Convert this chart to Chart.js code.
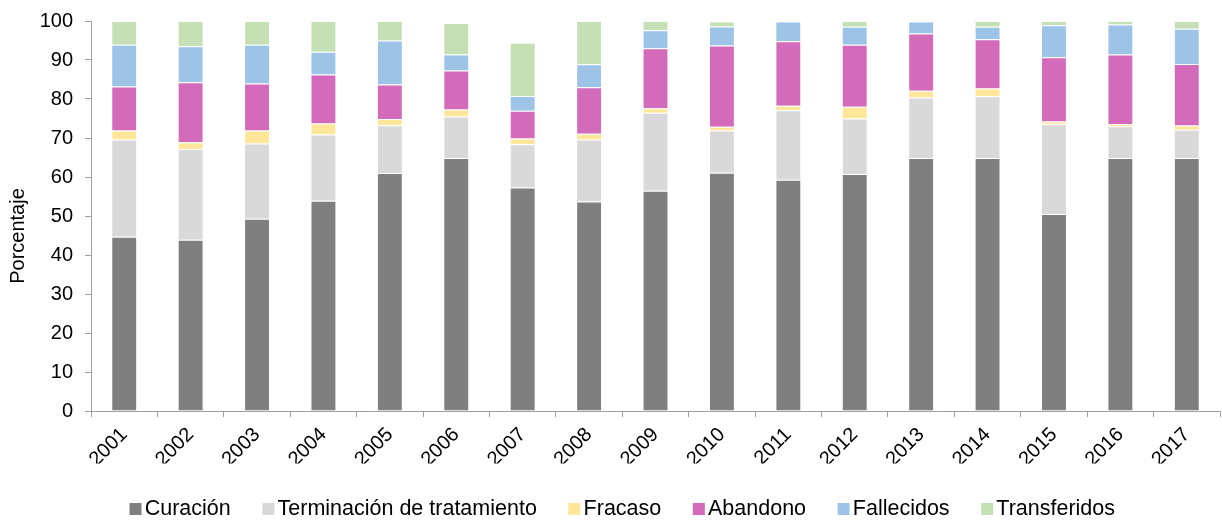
<!DOCTYPE html>
<html>
<head>
<meta charset="utf-8">
<script src="https://cdn.jsdelivr.net/npm/chart.js@4.4.1/dist/chart.umd.min.js"></script>
<style>
  html, body { margin: 0; padding: 0; background: #ffffff; }
  #wrap { width: 1222px; height: 521px; position: relative; }
</style>
</head>
<body>
<div id="wrap"><canvas id="chart"></canvas></div>
<script>
// Años de cohorte
const years = ['2001','2002','2003','2004','2005','2006','2007','2008','2009',
               '2010','2011','2012','2013','2014','2015','2016','2017'];

// Resultado del tratamiento (%)
const curacion     = [44.7, 43.9, 49.3, 53.9, 61.0, 64.9, 57.3, 53.7, 56.5, 61.1, 59.3, 60.8, 64.9, 64.9, 50.5, 64.9, 64.9];
const terminacion  = [24.9, 23.3, 19.3, 17.0, 12.3, 10.6, 11.1, 15.9, 20.0, 10.8, 17.8, 14.2, 15.5, 15.8, 23.0,  8.1,  7.2];
const fracaso      = [ 2.3,  1.7,  3.3,  2.8,  1.6,  1.8,  1.5,  1.5,  1.1,  1.0,  1.2,  3.0,  1.7,  2.0,  0.7,  0.6,  1.1];
const abandono     = [11.3, 15.4, 12.1, 12.6,  8.8, 10.0,  7.1, 11.9, 15.4, 20.8, 16.5, 15.9, 14.7, 12.6, 16.5, 17.8, 15.8];
const fallecidos   = [10.7,  9.2,  9.9,  5.8, 11.3,  4.1,  3.8,  5.9,  4.6,  4.9,  5.1,  4.6,  3.1,  3.2,  8.2,  7.7,  9.0];
const transferidos = [ 6.1,  6.5,  6.1,  7.9,  5.0,  8.1, 13.6, 11.1,  2.4,  1.3,  0.0,  1.5,  0.0,  1.5,  1.1,  0.9,  2.0];

// Escala del eje Y
const yMin = 0, yMax = 100, yStep = 10;

const FONT = '"Liberation Sans", Arial, sans-serif';
const AXIS_GREY = '#a0a0a0';

const series = [
  { label: 'Curación',                  data: curacion,     color: '#7f7f7f' },
  { label: 'Terminación de tratamiento', data: terminacion,  color: '#d9d9d9' },
  { label: 'Fracaso',                   data: fracaso,      color: '#ffe699' },
  { label: 'Abandono',                  data: abandono,     color: '#d36bba' },
  { label: 'Fallecidos',                data: fallecidos,   color: '#9dc3e6' },
  { label: 'Transferidos',              data: transferidos, color: '#c5e0b4' }
];

// Marcador cuadrado de la leyenda, pegado al texto
function legendSwatch(color) {
  const c = document.createElement('canvas');
  c.width = 24; c.height = 12;
  const g = c.getContext('2d');
  g.fillStyle = color;
  g.fillRect(8, 0, 12, 12);
  return c;
}
const swatches = series.map(s => legendSwatch(s.color));

// Rótulo vertical del eje Y
const yTitlePlugin = {
  id: 'yTitle',
  afterDraw(chart) {
    const ctx = chart.ctx;
    ctx.save();
    ctx.translate(18, 236);
    ctx.rotate(-Math.PI / 2);
    ctx.font = '20px ' + FONT;
    ctx.fillStyle = '#000';
    ctx.textAlign = 'center';
    ctx.textBaseline = 'middle';
    ctx.fillText('Porcentaje', 0, 0);
    ctx.restore();
  }
};

// Ajuste final de cajas: leyenda abajo y etiquetas del eje X sin recorte
const boxTweaks = {
  id: 'boxTweaks',
  afterLayout(chart) {
    const lg = chart.legend;
    if (lg) {
      lg.left += 14; lg.right += 14;
      lg.top += 9;  lg.bottom += 9;
    }
    const xs = chart.scales.x;
    if (xs) xs.bottom = lg ? lg.top : chart.height;
  }
};

new Chart(document.getElementById('chart'), {
  type: 'bar',
  data: {
    labels: years,
    datasets: series.map(s => ({
      label: s.label,
      data: s.data,
      backgroundColor: s.color,
      borderColor: 'rgba(255,255,255,0.45)',
      borderWidth: 1,
      barPercentage: 0.39,
      categoryPercentage: 1.0
    }))
  },
  options: {
    responsive: true,
    maintainAspectRatio: false,
    animation: false,
    layout: { padding: { top: 21, right: 2, left: 0, bottom: 0 } },
    plugins: {
      legend: {
        position: 'bottom',
        labels: {
          usePointStyle: true,
          boxWidth: 1,
          boxHeight: 12,
          padding: 35,
          color: '#000',
          font: { family: FONT, size: 21.5 },
          generateLabels(chart) {
            const items = Chart.defaults.plugins.legend.labels.generateLabels(chart);
            items.forEach(it => { it.pointStyle = swatches[it.datasetIndex]; });
            return items;
          }
        }
      },
      tooltip: { enabled: false }
    },
    scales: {
      x: {
        stacked: true,
        grid: {
          display: true,
          offset: true,
          drawOnChartArea: false,
          drawTicks: true,
          tickLength: 6,
          color: AXIS_GREY
        },
        border: { display: true, color: AXIS_GREY, width: 1 },
        ticks: {
          color: '#000',
          font: { family: FONT, size: 20 },
          minRotation: 45,
          maxRotation: 45,
          padding: 6
        },
        afterFit(s) {
          const lgH = s.chart.legend ? s.chart.legend.height : 0;
          s.height = s.chart.height - 411 - lgH;
        }
      },
      y: {
        stacked: true,
        min: yMin,
        max: yMax,
        grid: {
          display: true,
          drawOnChartArea: false,
          drawTicks: true,
          tickLength: 6,
          color: AXIS_GREY
        },
        border: { display: true, color: AXIS_GREY, width: 1 },
        ticks: {
          stepSize: yStep,
          color: '#000',
          padding: 12,
          font: { family: FONT, size: 20 }
        },
        afterFit(s) {
          s.width = 91;
          s.paddingTop = 0;
          s.paddingBottom = 0;
        }
      }
    }
  },
  plugins: [yTitlePlugin, boxTweaks]
});
</script>
</body>
</html>
